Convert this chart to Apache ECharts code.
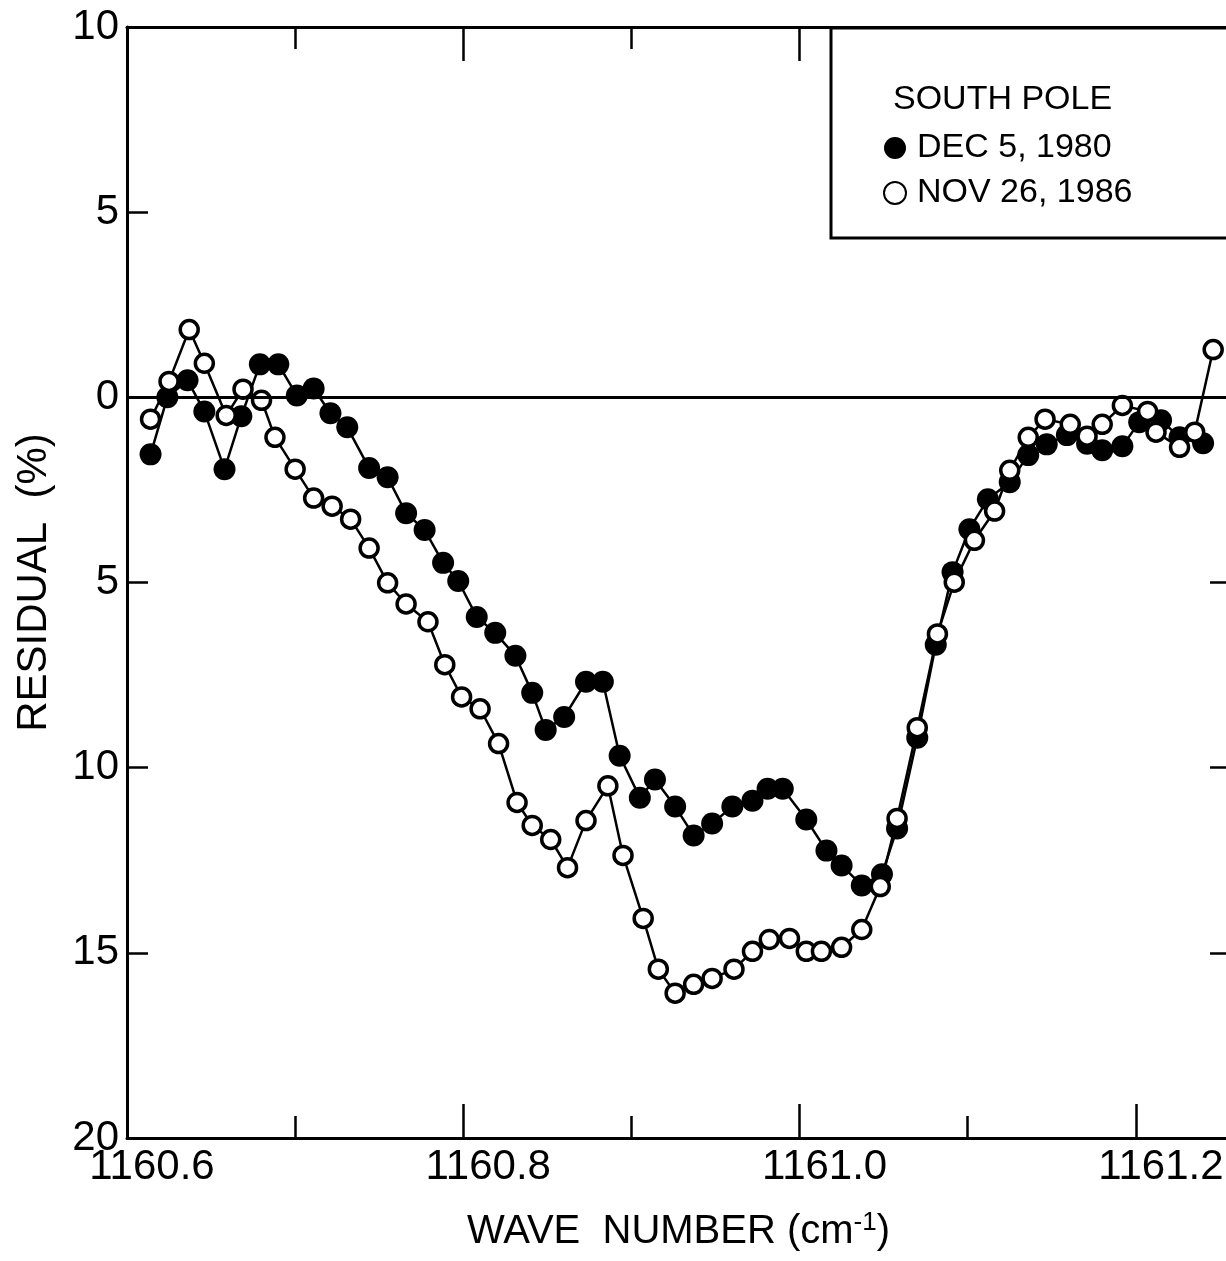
<!DOCTYPE html>
<html>
<head>
<meta charset="utf-8">
<script src="https://cdn.jsdelivr.net/npm/echarts@6/dist/echarts.min.js"></script>
<style>
html,body{margin:0;padding:0;background:#fff;overflow:hidden;}
#chart{width:1240px;height:1261px;}
</style>
</head>
<body>
<div id="chart"></div>
<script>
// Wave numbers (cm^-1) and residuals (%)
const decWave = [1160.614,1160.624,1160.636,1160.646,1160.658,1160.668,1160.679,1160.690,1160.701,1160.711,
  1160.721,1160.731,1160.744,1160.755,1160.766,1160.777,1160.788,1160.797,1160.808,1160.819,
  1160.831,1160.841,1160.849,1160.860,1160.873,1160.883,1160.893,1160.905,1160.914,1160.926,
  1160.937,1160.948,1160.960,1160.972,1160.981,1160.990,1161.004,1161.016,1161.025,1161.037,
  1161.049,1161.058,1161.070,1161.081,1161.091,1161.101,1161.112,1161.125,1161.136,1161.147,
  1161.159,1161.171,1161.180,1161.192,1161.202,1161.215,1161.226,1161.240];
const decResidual = [1.54,0.0,-0.46,0.38,1.94,0.51,-0.89,-0.89,-0.05,-0.24,
  0.43,0.81,1.91,2.16,3.13,3.58,4.47,4.96,5.93,6.36,
  6.98,7.98,8.98,8.63,7.68,7.68,9.68,10.81,10.32,11.05,
  11.83,11.51,11.05,10.89,10.57,10.57,11.40,12.24,12.64,13.18,
  12.88,11.64,9.19,6.68,4.72,3.56,2.75,2.29,1.56,1.27,
  1.02,1.25,1.43,1.32,0.67,0.62,1.08,1.24];

const novWave = [1160.614,1160.625,1160.637,1160.646,1160.659,1160.669,1160.680,1160.688,1160.700,1160.711,
  1160.722,1160.733,1160.744,1160.755,1160.766,1160.779,1160.789,1160.799,1160.810,1160.821,
  1160.832,1160.841,1160.852,1160.862,1160.873,1160.886,1160.895,1160.907,1160.916,1160.926,
  1160.937,1160.948,1160.961,1160.972,1160.982,1160.994,1161.004,1161.013,1161.025,1161.037,
  1161.048,1161.058,1161.070,1161.082,1161.092,1161.104,1161.116,1161.125,1161.136,1161.146,
  1161.161,1161.171,1161.180,1161.192,1161.207,1161.212,1161.226,1161.235,1161.246];
const novResidual = [0.59,-0.43,-1.83,-0.92,0.49,-0.22,0.08,1.08,1.94,2.72,
  2.94,3.29,4.07,5.01,5.58,6.06,7.22,8.09,8.41,9.35,
  10.94,11.56,11.94,12.70,11.43,10.49,12.37,14.07,15.44,16.09,
  15.85,15.69,15.44,14.96,14.64,14.61,14.96,14.96,14.85,14.37,
  13.21,11.37,8.92,6.39,4.99,3.86,3.07,1.97,1.08,0.59,
  0.73,1.05,0.73,0.22,0.38,0.94,1.35,0.94,-1.29];

const seriesNames = ['DEC 5, 1980', 'NOV 26, 1986'];
const legendTitle = 'SOUTH POLE';
const xTitle = 'WAVE  NUMBER';
const yTitle = 'RESIDUAL  (%)';

function pairs(xs, ys){ return xs.map((x,i)=>[x, ys[i]]); }

const FONT = 'Liberation Sans, Arial, sans-serif';
const chart = echarts.init(document.getElementById('chart'), null, {renderer:'canvas'});

const xBase = {
  type:'value', min:1160.6, max:1161.256, interval:0.2,
  axisLine:{onZero:false, lineStyle:{color:'#000', width:3}},
  axisTick:{inside:true, length:34, lineStyle:{color:'#000', width:2.5}},
  minorTick:{show:true, splitNumber:2, length:22, lineStyle:{color:'#000', width:2.5}},
  splitLine:{show:false}, minorSplitLine:{show:false}
};
const yBase = {
  type:'value', min:-10, max:20, interval:5, inverse:true,
  axisLine:{onZero:false, lineStyle:{color:'#000', width:3}},
  splitLine:{show:false}
};

chart.setOption({
  animation:false,
  backgroundColor:'#fff',
  grid:{left:127, top:27, width:1103, height:1111},
  title:{text:legendTitle, left:888, top:78, z:200,
    textStyle:{fontFamily:FONT, fontSize:34, fontWeight:'normal', color:'#000'}},
  legend:{
    orient:'vertical', left:878, top:126, itemGap:11, z:200,
    icon:'circle', itemWidth:22, itemHeight:22,
    data:seriesNames,
    textStyle:{fontFamily:FONT, fontSize:34, color:'#000', padding:[0,0,0,6]}
  },
  graphic:[{
    type:'rect', z:100,
    shape:{x:831, y:28, width:420, height:210},
    style:{fill:'#fff', stroke:'#000', lineWidth:3}
  }],
  xAxis:[
    Object.assign({}, xBase, {
      position:'bottom',
      axisLabel:{show:true, showMaxLabel:false, margin:8, padding:[0,0,0,50], color:'#000', fontFamily:FONT, fontSize:42,
        formatter:v=>{ const r = Math.round(v*10)/10; return Math.abs(v-r)<1e-6 ? r.toFixed(1) : ''; }},
      name:xTitle+' (cm{sup|-1})', nameLocation:'middle', nameGap:72,
      nameTextStyle:{fontFamily:FONT, fontSize:40, color:'#000',
        rich:{sup:{fontFamily:FONT, fontSize:26, color:'#000', verticalAlign:'top', padding:[0,0,18,0]}}}
    }),
    Object.assign({}, xBase, {
      position:'top', axisLabel:{show:false}
    })
  ],
  yAxis:[
    Object.assign({}, yBase, {
      position:'left',
      axisTick:{inside:true, length:21, lineStyle:{color:'#000', width:2.5}},
      axisLabel:{margin:8, color:'#000', fontFamily:FONT, fontSize:42, formatter:v=>String(Math.abs(v))},
      name:yTitle, nameLocation:'middle', nameGap:72, nameRotate:90,
      nameTextStyle:{fontFamily:FONT, fontSize:42, color:'#000'}
    }),
    Object.assign({}, yBase, {
      position:'right',
      axisTick:{inside:true, length:20, lineStyle:{color:'#000', width:2.5}},
      axisLabel:{show:false}
    })
  ],
  series:[
    {
      name:seriesNames[0], type:'line', data:pairs(decWave, decResidual),
      symbol:'circle', symbolSize:22, showAllSymbol:true,
      lineStyle:{color:'#000', width:2.5},
      itemStyle:{color:'#000', borderColor:'#000', borderWidth:0},
      markLine:{silent:true, symbol:'none', label:{show:false},
        lineStyle:{color:'#000', width:3, type:'solid'}, data:[{yAxis:0}]}
    },
    {
      name:seriesNames[1], type:'line', data:pairs(novWave, novResidual),
      symbol:'circle', symbolSize:18, showAllSymbol:true,
      lineStyle:{color:'#000', width:2.5},
      itemStyle:{color:'#fff', borderColor:'#000', borderWidth:3.5}
    }
  ]
});
</script>
</body>
</html>
